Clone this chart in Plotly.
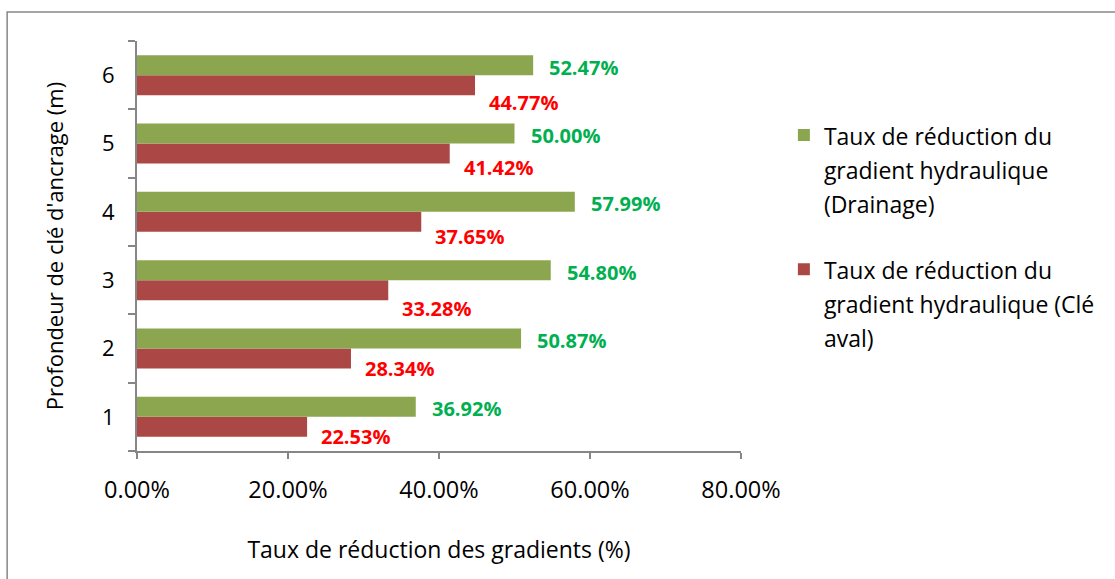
import plotly.graph_objects as go

# Anchor-key depth (m) and reduction rates of the hydraulic gradient
depths = ["1", "2", "3", "4", "5", "6"]
rate_drainage = [0.3692, 0.5087, 0.5480, 0.5799, 0.5000, 0.5247]
rate_cle_aval = [0.2253, 0.2834, 0.3328, 0.3765, 0.4142, 0.4477]
x_ticks = [0.0, 0.2, 0.4, 0.6, 0.8]

# vertical pixel drop of each Clé aval value label below its bar
cle_label_drop = [10, 10, 18, 15, 14, 17]

name_drainage = "Taux de réduction du<br>gradient hydraulique<br>(Drainage)"
name_cle_aval = "Taux de réduction du<br>gradient hydraulique (Clé<br>aval)"

GREEN = "#8BA64F"
RED = "#AB4846"
AXIS = "#868686"
FONT = "Open Sans"

fig = go.Figure()

# first trace sits lower inside each group, so the Clé aval bar goes first
fig.add_trace(go.Bar(
    y=depths, x=rate_cle_aval, orientation="h",
    name=f"<span style='font-size:23px'>{name_cle_aval}</span>",
    marker=dict(color=RED, line=dict(width=0)),
    legendgroup="b", legendrank=2,
))
fig.add_trace(go.Bar(
    y=depths, x=rate_drainage, orientation="h",
    name=f"<span style='font-size:23px'>{name_drainage}</span>",
    marker=dict(color=GREEN, line=dict(width=0)),
    legendgroup="a", legendrank=1,
))

# value labels next to the bar ends (y given as category index)
annotations = []
for i, v in enumerate(rate_drainage):
    annotations.append(dict(
        x=v, y=i, xref="x", yref="y", text=f"<b>{v*100:.2f}%</b>",
        showarrow=False, xanchor="left", yanchor="middle",
        xshift=14, yshift=8, font=dict(family=FONT, size=20, color="#00B050"),
    ))
for i, v in enumerate(rate_cle_aval):
    annotations.append(dict(
        x=v, y=i, xref="x", yref="y", text=f"<b>{v*100:.2f}%</b>",
        showarrow=False, xanchor="left", yanchor="middle",
        xshift=12, yshift=-(10 + cle_label_drop[i]),
        font=dict(family=FONT, size=20, color="#FF0000"),
    ))

fig.update_layout(
    width=1115, height=579,
    margin=dict(l=137, r=374, t=41, b=128),
    paper_bgcolor="white", plot_bgcolor="white",
    barmode="group", bargap=0.415, bargroupgap=0,
    font=dict(family=FONT, size=22, color="#000000"),
    showlegend=True,
    legend=dict(
        x=1.071, y=0.828, xanchor="left", yanchor="top",
        valign="top", tracegroupgap=30,
        font=dict(family=FONT, size=26, color="#000000"),
        bgcolor="rgba(0,0,0,0)",
    ),
    annotations=annotations,
    shapes=[dict(
        type="rect", xref="paper", yref="paper",
        x0=-0.215, x1=1.7, y0=1.0707, y1=-0.4,
        line=dict(color=AXIS, width=1.5), fillcolor="rgba(0,0,0,0)", layer="below",
    )],
)

fig.update_xaxes(
    range=[0, 0.8], tickvals=x_ticks, tickformat=".2%",
    showgrid=False, zeroline=False,
    showline=True, linecolor=AXIS, linewidth=2,
    ticks="outside", ticklen=6, tickwidth=2, tickcolor=AXIS,
    ticklabelstandoff=11,
    tickfont=dict(family=FONT, size=23.5, color="#000000"),
    title=dict(text="Taux de réduction des gradients (%)", standoff=38,
               font=dict(family=FONT, size=23, color="#000000")),
)
fig.update_yaxes(
    type="category", categoryorder="array", categoryarray=depths,
    range=[-0.5, len(depths) - 0.5], autorange=False,
    showgrid=False, zeroline=False,
    showline=True, linecolor=AXIS, linewidth=2,
    ticks="outside", ticklen=7, tickwidth=2, tickcolor=AXIS,
    tickson="boundaries",
    ticklabelstandoff=16,
    tickfont=dict(family=FONT, size=22, color="#000000"),
    title=dict(text="Profondeur de clé d'ancrage (m)", standoff=32,
               font=dict(family=FONT, size=22, color="#000000")),
)

fig.write_html("out.html")
